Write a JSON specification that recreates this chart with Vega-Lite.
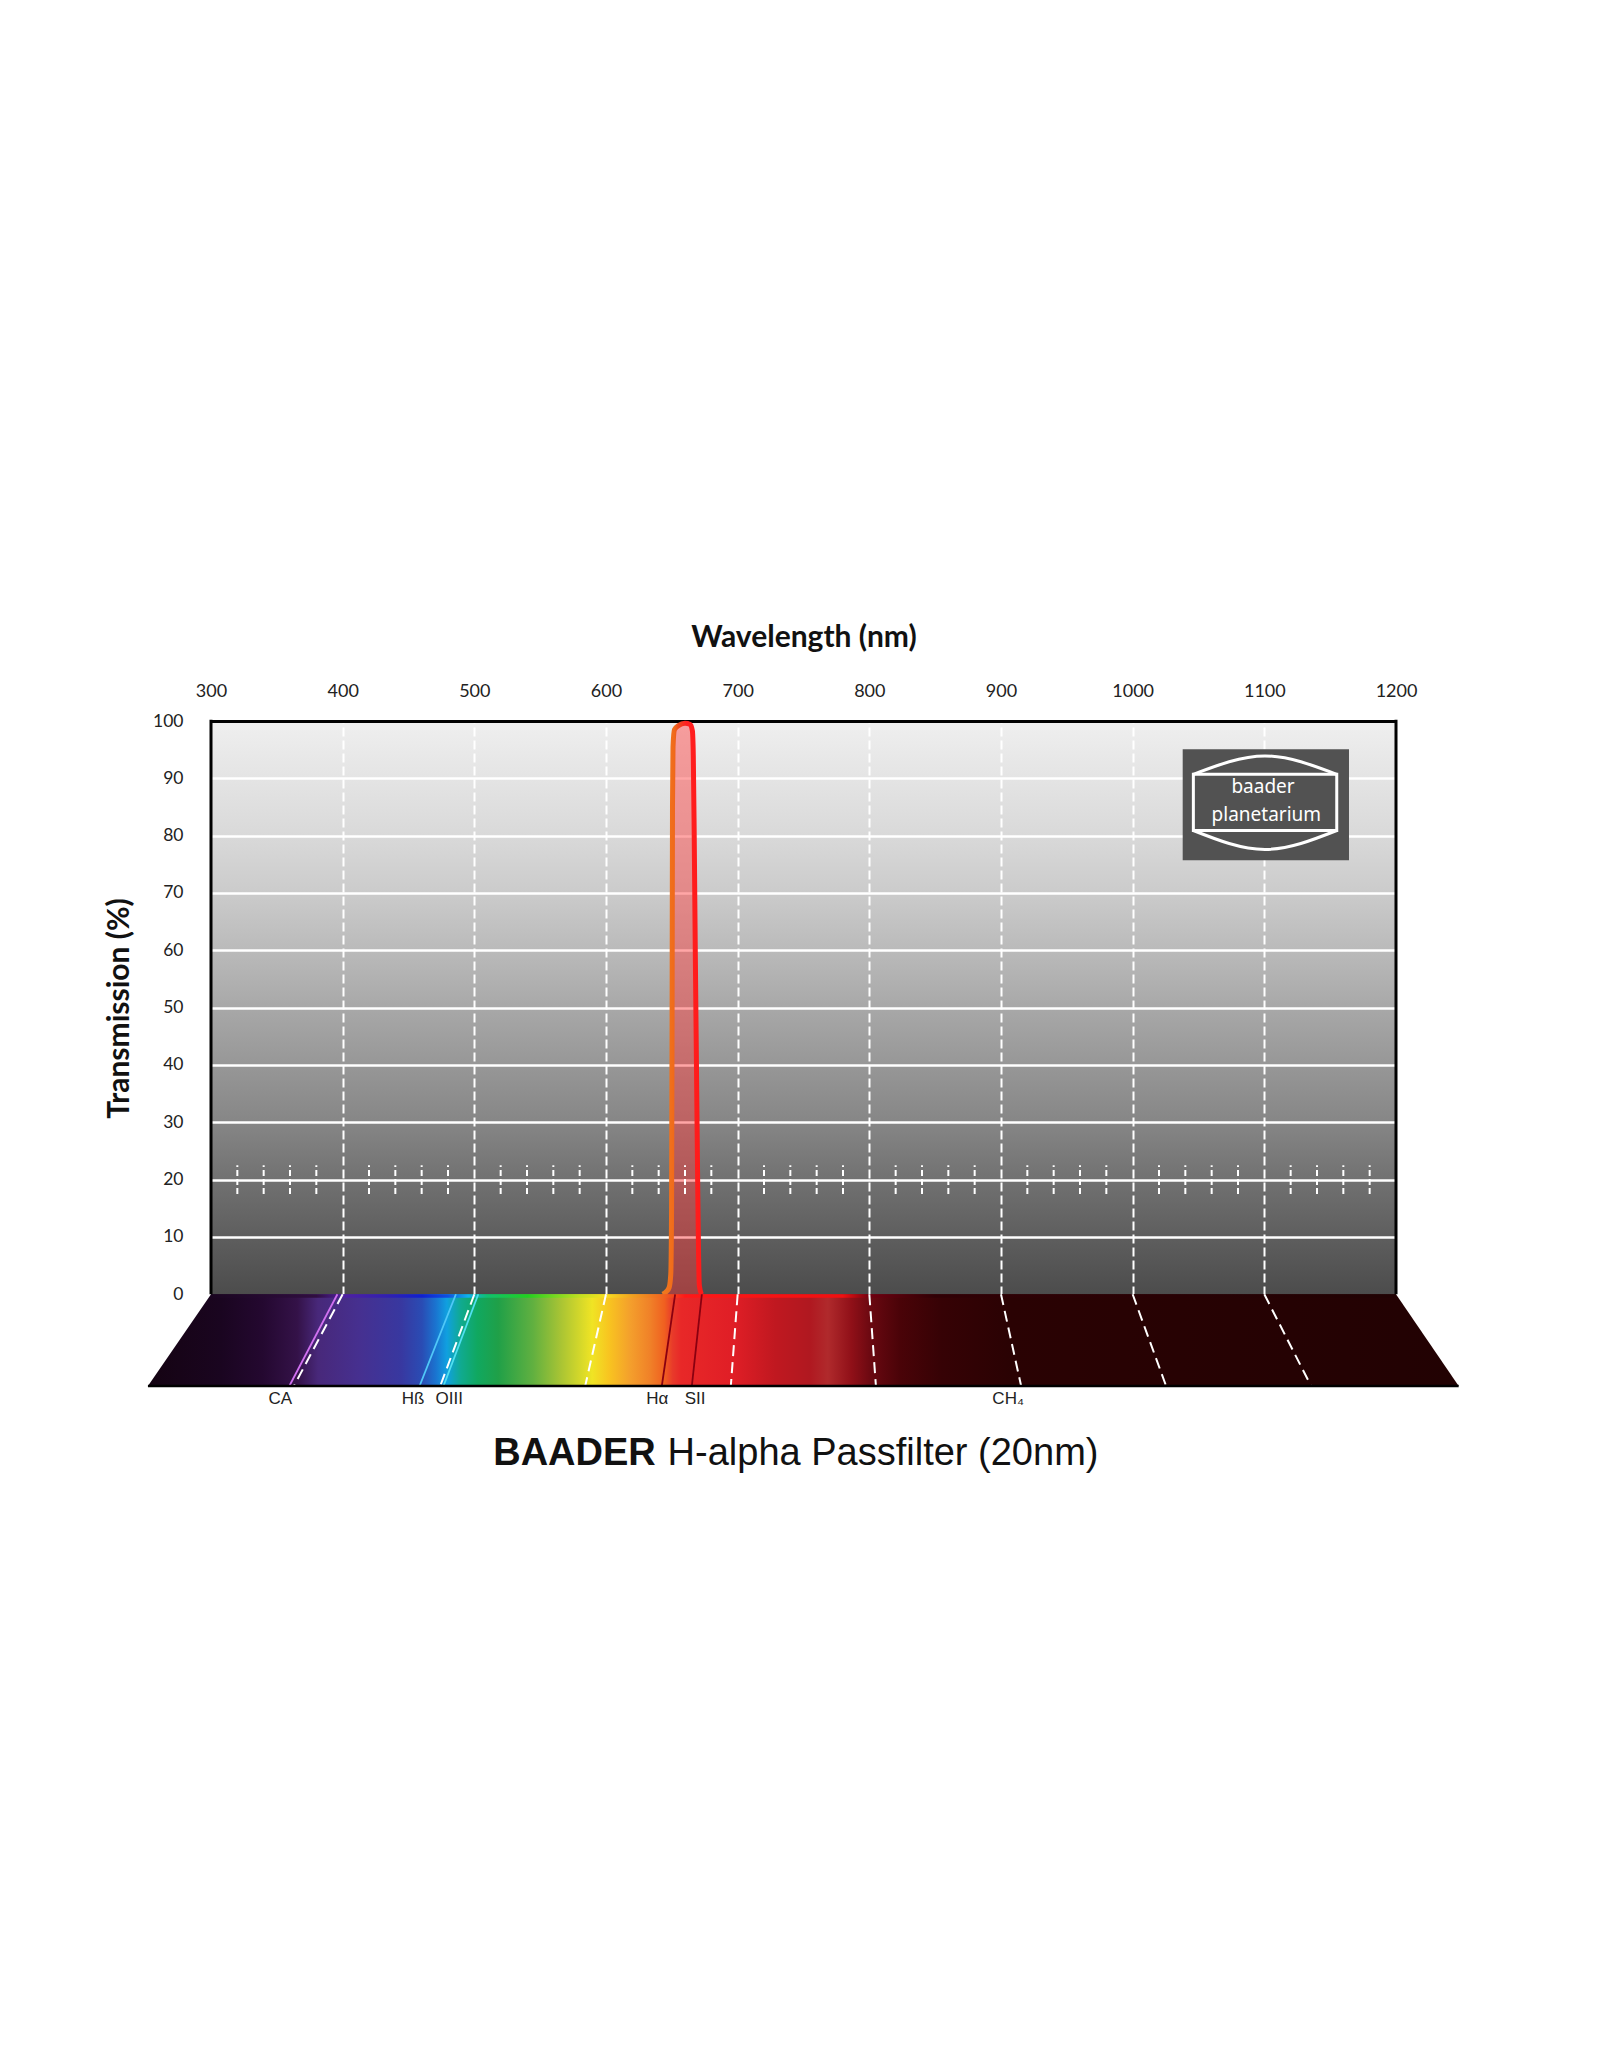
{
  "$schema": "https://vega.github.io/schema/vega-lite/v6.json",
  "width": 1185,
  "height": 665,
  "autosize": {"type": "none"},
  "padding": {"left": 211, "top": 721, "right": 204, "bottom": 662},
  "background": "white",
  "view": {
    "stroke": null,
    "fill": {
      "gradient": "linear", "x1": 0, "y1": 0, "x2": 0, "y2": 1,
      "stops": [
        {"offset": 0, "color": "#efefef"},
        {"offset": 0.0862, "color": "#e4e4e4"},
        {"offset": 0.1724, "color": "#d9d9d9"},
        {"offset": 0.2586, "color": "#cbcbcb"},
        {"offset": 0.3448, "color": "#bababa"},
        {"offset": 0.431, "color": "#a8a8a8"},
        {"offset": 0.5172, "color": "#979797"},
        {"offset": 0.6034, "color": "#868686"},
        {"offset": 0.6897, "color": "#717171"},
        {"offset": 0.7759, "color": "#5e5e5e"},
        {"offset": 0.8621, "color": "#4c4c4c"},
        {"offset": 1, "color": "#4c4c4c"}
      ]
    }
  },
  "config": {"font": "Lato"},
  "datasets": {
    "one": [{}],
    "curve": [
      {"w": 643, "T": 0}, {"w": 646, "T": 0.5}, {"w": 648, "T": 1.2}, {"w": 649.2, "T": 3.5},
      {"w": 649.8, "T": 15}, {"w": 650.2, "T": 50}, {"w": 650.5, "T": 85}, {"w": 650.9, "T": 95.5},
      {"w": 652, "T": 98.5}, {"w": 655, "T": 99.2}, {"w": 660, "T": 99.6}, {"w": 664, "T": 99.4},
      {"w": 665.6, "T": 98.3}, {"w": 666.3, "T": 94}, {"w": 667, "T": 80}, {"w": 667.8, "T": 60},
      {"w": 668.7, "T": 40}, {"w": 669.6, "T": 20}, {"w": 670.3, "T": 7}, {"w": 670.9, "T": 1.5},
      {"w": 672.5, "T": 0}
    ],
    "ticks": [
      {"w": 320}, {"w": 340}, {"w": 360}, {"w": 380},
      {"w": 420}, {"w": 440}, {"w": 460}, {"w": 480},
      {"w": 520}, {"w": 540}, {"w": 560}, {"w": 580},
      {"w": 620}, {"w": 640}, {"w": 660}, {"w": 680},
      {"w": 720}, {"w": 740}, {"w": 760}, {"w": 780},
      {"w": 820}, {"w": 840}, {"w": 860}, {"w": 880},
      {"w": 920}, {"w": 940}, {"w": 960}, {"w": 980},
      {"w": 1020}, {"w": 1040}, {"w": 1060}, {"w": 1080},
      {"w": 1120}, {"w": 1140}, {"w": 1160}, {"w": 1180}
    ],
    "floor": [
      {"w": 252.1, "top": -16, "bottom": -16},
      {"w": 300, "top": 0, "bottom": -16},
      {"w": 1200, "top": 0, "bottom": -16},
      {"w": 1247.6, "top": -16, "bottom": -16}
    ],
    "floorGrid": [
      {"w": 400, "wb": 363}, {"w": 500, "wb": 474.1}, {"w": 600, "wb": 584.2},
      {"w": 700, "wb": 694.8}, {"w": 800, "wb": 805}, {"w": 900, "wb": 915.3},
      {"w": 1000, "wb": 1025.4}, {"w": 1100, "wb": 1135.5}
    ],
    "spectralLines": [
      {"line": "CA", "w": 396, "wb": 359.5},
      {"line": "Hß", "w": 486, "wb": 458.4},
      {"line": "OIII", "w": 503, "wb": 476.6},
      {"line": "Hα", "w": 652.5, "wb": 642.4},
      {"line": "SII", "w": 672.8, "wb": 665.2}
    ],
    "lineLabels": [
      {"label": "CA", "lx": 352.6},
      {"label": "Hß", "lx": 453.4},
      {"label": "OIII", "lx": 481},
      {"label": "Hα", "lx": 638.9},
      {"label": "SII", "lx": 667.7},
      {"label": "CH₄", "lx": 905.4}
    ],
    "logoArcs": [
      {"part": "top", "ax": 1046.1, "ay": 90.7},
      {"part": "top", "ax": 1100.5, "ay": 93.9},
      {"part": "top", "ax": 1155, "ay": 90.7},
      {"part": "bottom", "ax": 1046.1, "ay": 80.9},
      {"part": "bottom", "ax": 1100.5, "ay": 77.6},
      {"part": "bottom", "ax": 1155, "ay": 80.9}
    ]
  },
  "layer": [
    {
      "data": {"name": "curve"},
      "mark": {"type": "area", "color": "#ff3a3a", "fillOpacity": 0.45, "interpolate": "monotone"},
      "encoding": {
        "x": {
          "field": "w", "type": "quantitative",
          "scale": {"domain": [300, 1200], "nice": false, "zero": false},
          "axis": {
            "orient": "top",
            "values": [300, 400, 500, 600, 700, 800, 900, 1000, 1100, 1200],
            "format": "d",
            "title": "Wavelength (nm)",
            "titleFont": "Lato", "titleFontSize": 30, "titleFontWeight": "bold", "titleColor": "#111",
            "titlePadding": 30,
            "labelFont": "Lato", "labelFontSize": 18, "labelColor": "#222", "labelPadding": 21,
            "labelFlush": false, "labelOverlap": false, "labelBound": false,
            "ticks": false,
            "domain": true, "domainColor": "#000", "domainWidth": 3,
            "grid": true, "gridColor": "#ffffff", "gridWidth": 2, "gridDash": [9, 4],
            "gridOpacity": {"condition": {"test": "datum.value <= 300 || datum.value >= 1200", "value": 0}, "value": 1}
          }
        },
        "y": {
          "field": "T", "type": "quantitative",
          "scale": {"domain": [-16, 100], "nice": false, "zero": false},
          "axis": {
            "orient": "left",
            "values": [0, 10, 20, 30, 40, 50, 60, 70, 80, 90, 100],
            "title": "Transmission (%)",
            "titleFont": "Lato", "titleFontSize": 30, "titleFontWeight": "bold", "titleColor": "#111",
            "titlePadding": 18,
            "titleY": 287,
            "labelFont": "Lato", "labelFontSize": 17.5, "labelColor": "#222", "labelPadding": 28,
            "labelOverlap": false,
            "ticks": false, "domain": false,
            "grid": true, "gridColor": "#ffffff", "gridWidth": 2.5,
            "gridOpacity": {"condition": {"test": "datum.value <= 0 || datum.value >= 100", "value": 0}, "value": 1}
          }
        },
        "y2": {"datum": 0}
      }
    },
    {
      "data": {"name": "ticks"},
      "mark": {"type": "rule", "color": "white", "strokeWidth": 2, "strokeDash": [6, 3]},
      "encoding": {
        "x": {"field": "w", "type": "quantitative"},
        "y": {"datum": 17.5, "type": "quantitative"},
        "y2": {"datum": 22.5}
      }
    },
    {
      "data": {"name": "curve"},
      "mark": {
        "type": "line", "strokeWidth": 5, "interpolate": "monotone",
        "stroke": {
          "gradient": "linear", "x1": 0, "y1": 0, "x2": 1, "y2": 0,
          "stops": [
            {"offset": 0, "color": "#f07a20"},
            {"offset": 0.3, "color": "#f06a1a"},
            {"offset": 0.45, "color": "#f04020"},
            {"offset": 0.6, "color": "#ff2020"},
            {"offset": 1, "color": "#ff1a1a"}
          ]
        }
      },
      "encoding": {
        "x": {"field": "w", "type": "quantitative"},
        "y": {"field": "T", "type": "quantitative"}
      }
    },
    {
      "data": {"name": "floor"},
      "mark": {
        "type": "area",
        "color": {
          "gradient": "linear", "x1": 0, "y1": 0, "x2": 1, "y2": 0,
          "stops": [
            {"offset": 0, "color": "#140312"},
            {"offset": 0.024, "color": "#170418"},
            {"offset": 0.056, "color": "#1a0520"},
            {"offset": 0.0875, "color": "#240830"},
            {"offset": 0.114, "color": "#341248"},
            {"offset": 0.1298, "color": "#48287a"},
            {"offset": 0.1615, "color": "#463090"},
            {"offset": 0.1932, "color": "#3838a0"},
            {"offset": 0.2091, "color": "#2a4cb4"},
            {"offset": 0.2196, "color": "#1a74d0"},
            {"offset": 0.2281, "color": "#10a0e0"},
            {"offset": 0.2387, "color": "#10aa90"},
            {"offset": 0.2513, "color": "#10a860"},
            {"offset": 0.2672, "color": "#20a048"},
            {"offset": 0.2936, "color": "#60b040"},
            {"offset": 0.3148, "color": "#a8c434"},
            {"offset": 0.339, "color": "#f0e424"},
            {"offset": 0.3518, "color": "#f8c420"},
            {"offset": 0.3676, "color": "#f4a02c"},
            {"offset": 0.3834, "color": "#f08028"},
            {"offset": 0.394, "color": "#f06020"},
            {"offset": 0.4003, "color": "#e83a2a"},
            {"offset": 0.4067, "color": "#e82828"},
            {"offset": 0.4468, "color": "#e01e26"},
            {"offset": 0.4786, "color": "#c01820"},
            {"offset": 0.505, "color": "#b01820"},
            {"offset": 0.5187, "color": "#b02a2c"},
            {"offset": 0.5367, "color": "#901018"},
            {"offset": 0.5525, "color": "#680810"},
            {"offset": 0.5737, "color": "#4a0308"},
            {"offset": 0.6054, "color": "#360205"},
            {"offset": 0.658, "color": "#2a0203"},
            {"offset": 1, "color": "#220203"}
          ]
        }
      },
      "encoding": {
        "x": {"field": "w", "type": "quantitative"},
        "y": {"field": "top", "type": "quantitative"},
        "y2": {"field": "bottom"}
      }
    },
    {
      "data": {"name": "one"},
      "mark": {
        "type": "rect",
        "color": {
          "gradient": "linear", "x1": 0, "y1": 0, "x2": 1, "y2": 0,
          "stops": [
            {"offset": 0, "color": "#1a0520"},
            {"offset": 0.089, "color": "#300e40"},
            {"offset": 0.111, "color": "#5020a0"},
            {"offset": 0.15, "color": "#3020b0"},
            {"offset": 0.178, "color": "#1020d0"},
            {"offset": 0.2, "color": "#1050e0"},
            {"offset": 0.217, "color": "#10b0f0"},
            {"offset": 0.233, "color": "#10c070"},
            {"offset": 0.267, "color": "#20d020"},
            {"offset": 0.311, "color": "#c0e020"},
            {"offset": 0.333, "color": "#f8e020"},
            {"offset": 0.356, "color": "#f0a020"},
            {"offset": 0.383, "color": "#f06020"},
            {"offset": 0.4, "color": "#ff1818"},
            {"offset": 0.533, "color": "#f01010"},
            {"offset": 0.556, "color": "#700010"},
            {"offset": 0.611, "color": "#300005"},
            {"offset": 1, "color": "#200203"}
          ]
        }
      },
      "encoding": {
        "x": {"datum": 300, "type": "quantitative"},
        "x2": {"datum": 1200},
        "y": {"datum": 0, "type": "quantitative"},
        "y2": {"datum": -0.6}
      }
    },
    {
      "data": {"name": "floorGrid"},
      "mark": {"type": "rule", "color": "white", "strokeWidth": 2, "strokeDash": [11, 6]},
      "encoding": {
        "x": {"field": "w", "type": "quantitative"},
        "x2": {"field": "wb"},
        "y": {"datum": 0, "type": "quantitative"},
        "y2": {"datum": -16}
      }
    },
    {
      "data": {"name": "spectralLines"},
      "mark": {"type": "rule", "strokeWidth": 1.8},
      "encoding": {
        "x": {"field": "w", "type": "quantitative"},
        "x2": {"field": "wb"},
        "y": {"datum": 0, "type": "quantitative"},
        "y2": {"datum": -16},
        "color": {
          "field": "line", "type": "nominal", "legend": null,
          "scale": {"domain": ["CA", "Hß", "OIII", "Hα", "SII"], "range": ["#d070f0", "#50c8f8", "#50e0f0", "#8a0010", "#8a0010"]}
        }
      }
    },
    {
      "data": {"name": "one"},
      "mark": {"type": "rule", "color": "#000", "strokeWidth": 2.5},
      "encoding": {
        "x": {"datum": 252.1, "type": "quantitative"},
        "x2": {"datum": 1247.6},
        "y": {"datum": -16, "type": "quantitative"}
      }
    },
    {
      "data": {"name": "one"},
      "mark": {"type": "rule", "color": "#000", "strokeWidth": 3},
      "encoding": {
        "x": {"datum": 300, "type": "quantitative"},
        "y": {"datum": 0, "type": "quantitative"},
        "y2": {"datum": 100.2}
      }
    },
    {
      "data": {"name": "one"},
      "mark": {"type": "rule", "color": "#000", "strokeWidth": 3},
      "encoding": {
        "x": {"datum": 1200, "type": "quantitative"},
        "y": {"datum": 0, "type": "quantitative"},
        "y2": {"datum": 100.2}
      }
    },
    {
      "data": {"name": "one"},
      "mark": {"type": "rect", "color": "#525252"},
      "encoding": {
        "x": {"datum": 1038, "type": "quantitative"},
        "x2": {"datum": 1164.3},
        "y": {"datum": 95.06, "type": "quantitative"},
        "y2": {"datum": 75.7}
      }
    },
    {
      "data": {"name": "one"},
      "mark": {"type": "rect", "filled": false, "stroke": "white", "strokeWidth": 3},
      "encoding": {
        "x": {"datum": 1046.1, "type": "quantitative"},
        "x2": {"datum": 1155},
        "y": {"datum": 90.7, "type": "quantitative"},
        "y2": {"datum": 80.9}
      }
    },
    {
      "data": {"name": "logoArcs"},
      "mark": {"type": "line", "color": "white", "strokeWidth": 3, "interpolate": "natural"},
      "encoding": {
        "x": {"field": "ax", "type": "quantitative"},
        "y": {"field": "ay", "type": "quantitative"},
        "detail": {"field": "part", "type": "nominal"}
      }
    },
    {
      "data": {"name": "one"},
      "mark": {"type": "text", "text": "baader", "font": "Noto Sans", "fontSize": 19, "color": "white", "align": "center", "baseline": "alphabetic", "letterSpacing": 2},
      "encoding": {
        "x": {"datum": 1099, "type": "quantitative"},
        "y": {"datum": 87.5, "type": "quantitative"}
      }
    },
    {
      "data": {"name": "one"},
      "mark": {"type": "text", "text": "planetarium", "font": "Noto Sans", "fontSize": 19, "color": "white", "align": "center", "baseline": "alphabetic", "letterSpacing": 0.8},
      "encoding": {
        "x": {"datum": 1101.5, "type": "quantitative"},
        "y": {"datum": 82.6, "type": "quantitative"}
      }
    },
    {
      "data": {"name": "lineLabels"},
      "mark": {"type": "text", "font": "Liberation Sans", "fontSize": 17, "color": "#222", "align": "center", "baseline": "middle"},
      "encoding": {
        "x": {"field": "lx", "type": "quantitative"},
        "y": {"datum": -18.3, "type": "quantitative"},
        "text": {"field": "label"}
      }
    },
    {
      "data": {"name": "one"},
      "mark": {"type": "text", "text": "BAADER", "font": "Liberation Sans", "fontWeight": "bold", "fontSize": 38, "color": "#111", "align": "right", "baseline": "middle"},
      "encoding": {
        "x": {"datum": 637.8, "type": "quantitative"},
        "y": {"datum": -27.9, "type": "quantitative"}
      }
    },
    {
      "data": {"name": "one"},
      "mark": {"type": "text", "text": "H-alpha Passfilter (20nm)", "font": "Liberation Sans", "fontSize": 38, "color": "#111", "align": "left", "baseline": "middle"},
      "encoding": {
        "x": {"datum": 646.8, "type": "quantitative"},
        "y": {"datum": -27.9, "type": "quantitative"}
      }
    }
  ]
}
